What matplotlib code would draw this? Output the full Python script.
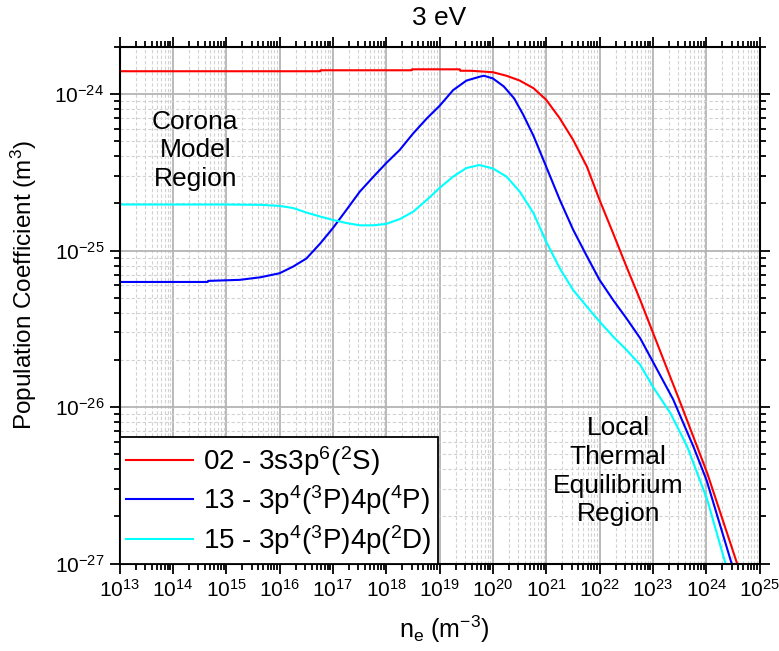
import matplotlib
matplotlib.use("Agg")
import matplotlib.pyplot as plt
from matplotlib.ticker import FixedLocator, FuncFormatter, NullFormatter
import numpy as np

plt.rcParams['font.family'] = ['Liberation Sans', 'DejaVu Sans']
plt.rcParams['mathtext.fontset'] = 'custom'
plt.rcParams['mathtext.rm'] = 'Liberation Sans'
plt.rcParams['mathtext.it'] = 'Liberation Sans:italic'
plt.rcParams['mathtext.bf'] = 'Liberation Sans:bold'
plt.rcParams['mathtext.default'] = 'regular'

# ---- data ----
ne_02 = [1e13, 5.8e16, 5.9e16, 3.0e18, 3.05e18, 2.4e19, 2.45e19, 3.8e19, 1e20, 1.8e20,
         3.2e20, 5.8e20, 1e21, 1.8e21, 3.2e21, 5.8e21, 1e22, 1.8e22, 3.2e22, 5.8e22,
         1e23, 3.3e23, 1.05e24, 3.8e24, 6e24]
pc_02 = [1.40e-24, 1.40e-24, 1.42e-24, 1.42e-24, 1.44e-24, 1.44e-24, 1.41e-24, 1.41e-24,
         1.38e-24, 1.31e-24, 1.22e-24, 1.09e-24, 9.2e-25, 7.0e-25, 5.1e-25, 3.44e-25,
         2.11e-25, 1.29e-25, 7.9e-26, 4.83e-26, 3.0e-26, 1.06e-26, 3.77e-27, 1.0e-27, 6.5e-28]

ne_13 = [1e13, 4.5e14, 4.6e14, 1.8e15, 4.4e15, 1e16, 1.8e16, 3.2e16, 5.8e16, 1e17,
         1.8e17, 3.2e17, 5.8e17, 1e18, 1.8e18, 3.2e18, 5.8e18, 1e19, 1.8e19, 3.2e19,
         5.6e19, 6.8e19, 1e20, 1.6e20, 2.5e20, 3.7e20, 5.8e20, 1e21, 1.8e21, 3.2e21,
         5.8e21, 1e22, 1.8e22, 3.2e22, 5.8e22, 1e23, 2.4e23, 5.8e23, 1.02e24, 3.0e24, 5e24]
pc_13 = [6.3e-26, 6.3e-26, 6.4e-26, 6.5e-26, 6.75e-26, 7.16e-26, 7.9e-26, 8.9e-26, 1.11e-25,
         1.39e-25, 1.82e-25, 2.38e-25, 2.97e-25, 3.62e-25, 4.4e-25, 5.6e-25, 7.0e-25, 8.4e-25,
         1.06e-24, 1.22e-24, 1.29e-24, 1.31e-24, 1.26e-24, 1.12e-24, 9.4e-25, 7.4e-25, 5.4e-25,
         3.44e-25, 2.11e-25, 1.36e-25, 9.2e-26, 6.5e-26, 4.83e-26, 3.69e-26, 2.75e-26,
         1.95e-26, 1.12e-26, 5.56e-27, 3.4e-27, 1.0e-27, 5.5e-28]

ne_15 = [1e13, 1e15, 4.4e15, 1e16, 1.8e16, 3.2e16, 5.8e16, 1e17, 1.8e17, 3.2e17, 5.8e17,
         1e18, 1.8e18, 3.2e18, 5.8e18, 1e19, 1.8e19, 3.2e19, 5.6e19, 1e20, 1.8e20, 3.2e20,
         5.8e20, 1e21, 1.8e21, 3.2e21, 5.8e21, 1e22, 1.8e22, 3.2e22, 5.8e22, 1e23, 2.15e23,
         4.4e23, 1.05e24, 2.3e24, 4e24]
pc_15 = [1.97e-25, 1.97e-25, 1.96e-25, 1.93e-25, 1.87e-25, 1.75e-25, 1.65e-25, 1.57e-25,
         1.50e-25, 1.45e-25, 1.45e-25, 1.48e-25, 1.59e-25, 1.77e-25, 2.11e-25, 2.51e-25,
         2.97e-25, 3.37e-25, 3.52e-25, 3.35e-25, 2.97e-25, 2.38e-25, 1.73e-25, 1.14e-25,
         7.7e-26, 5.6e-26, 4.38e-26, 3.52e-26, 2.82e-26, 2.32e-26, 1.86e-26, 1.35e-26,
         9.1e-27, 5.6e-27, 2.55e-27, 1.0e-27, 5.0e-28]

labels = [r'02 - 3s3p$^{6}$($^{2}$S)',
          r'13 - 3p$^{4}$($^{3}$P)4p($^{4}$P)',
          r'15 - 3p$^{4}$($^{3}$P)4p($^{2}$D)']
colors = ['#ff0000', '#0000ff', '#00ffff']

x_decades = list(range(13, 26))
y_decades = list(range(-27, -23))

title = '3 eV'
xlabel = r'n$_{e}$ (m$^{-3}$)'
ylabel = r'Population Coefficient (m$^{3}$)'

W, H = 779, 651
fig = plt.figure(figsize=(W / 100, H / 100), dpi=100)
L, R, T, B = 119.5, 759.5, 47, 563.5
ax = fig.add_axes([L / W, 1 - B / H, (R - L) / W, (B - T) / H])

for ne, pc, lab, c in zip([ne_02, ne_13, ne_15], [pc_02, pc_13, pc_15], labels, colors):
    ax.plot(ne, pc, color=c, lw=1.5, label=lab)

ax.set_xscale('log')
ax.set_yscale('log')
ax.set_xlim(1e13, 1e25)
ax.set_ylim(1e-27, 2e-24)

xmaj = [10.0 ** k for k in x_decades]
xmin = [m * 10.0 ** k for k in x_decades[:-1] for m in range(2, 10)]
ymaj = [10.0 ** k for k in y_decades]
ymin = [m * 10.0 ** k for k in y_decades for m in range(2, 10) if m * 10.0 ** k <= 2e-24]
ax.xaxis.set_major_locator(FixedLocator(xmaj))
ax.xaxis.set_minor_locator(FixedLocator(xmin))
ax.yaxis.set_major_locator(FixedLocator(ymaj))
ax.yaxis.set_minor_locator(FixedLocator(ymin))

fmt = FuncFormatter(lambda v, p: r'$10^{%d}$' % int(round(np.log10(v))))
ax.xaxis.set_major_formatter(fmt)
ax.yaxis.set_major_formatter(fmt)
ax.xaxis.set_minor_formatter(NullFormatter())
ax.yaxis.set_minor_formatter(NullFormatter())

ax.tick_params(which='both', direction='out', top=True, right=True, width=1.3, colors='black')
ax.tick_params(which='major', length=7, labelsize=15, pad=4)
ax.tick_params(which='minor', length=4.5)
for s in ax.spines.values():
    s.set_linewidth(1.5)

ax.grid(which='major', color='#b4b4b4', lw=1.3, ls='-')
ax.grid(which='minor', color='#d2d2d2', lw=0.8, ls=(0, (3, 2)))
ax.set_axisbelow(True)

leg = ax.legend(loc='lower left', fontsize=20, frameon=True, fancybox=False,
                edgecolor='black', framealpha=1, borderaxespad=0, borderpad=0.25,
                handlelength=2.4, handletextpad=0.35, labelspacing=0.2)
leg.get_frame().set_linewidth(1.3)

ax.text(10 ** 14.42, 10 ** -24.36, 'Corona\nModel\nRegion', fontsize=19,
        ha='center', va='center', linespacing=1.25)
ax.text(10 ** 22.35, 10 ** -26.41, 'Local\nThermal\nEquilibrium\nRegion', fontsize=19,
        ha='center', va='center', linespacing=1.25)

fig.text(439 / W, 1 - 25 / H, title, ha='center', va='baseline', fontsize=19)
fig.text(444 / W, 1 - 638 / H, xlabel, ha='center', va='baseline', fontsize=18)
fig.text(24 / W, 1 - 285 / H, ylabel, ha='center', va='center', rotation=90, fontsize=17.5)

fig.savefig('out.png', dpi=100)
